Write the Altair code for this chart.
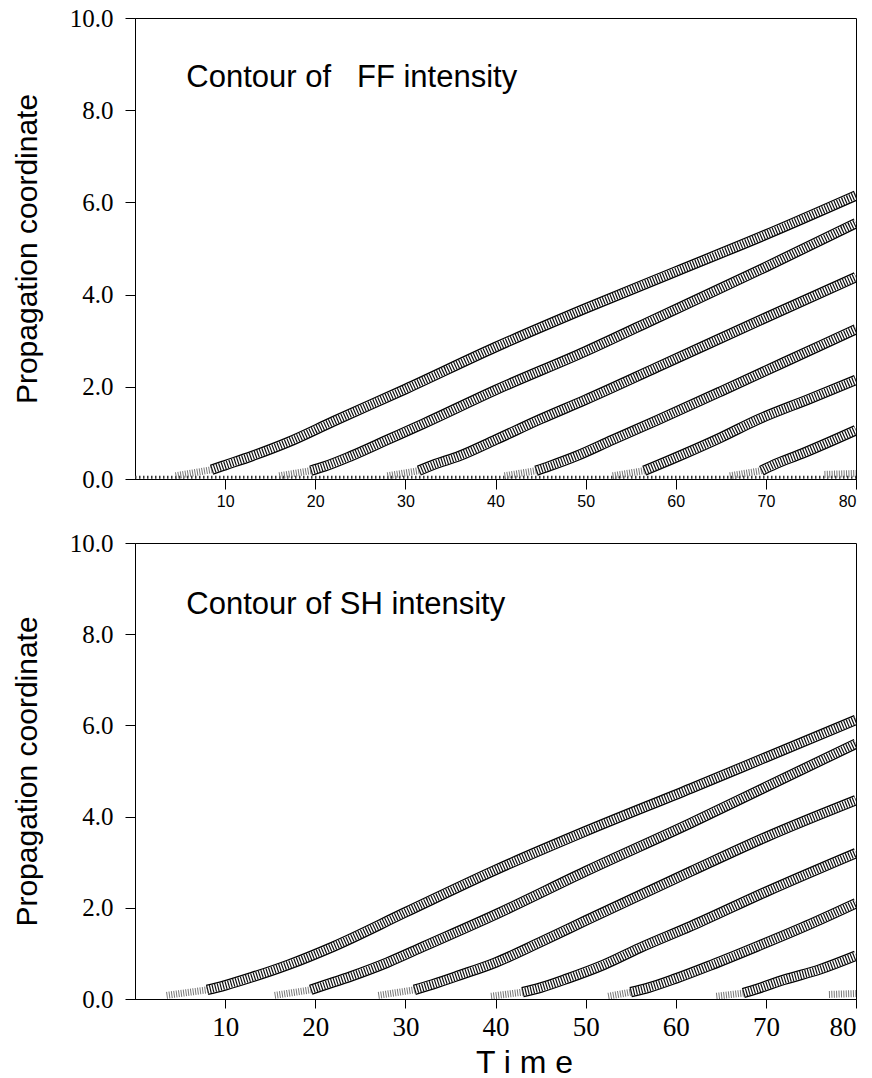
import altair as alt
import pandas as pd

# ---------------- data ----------------
X_TICKS = [10, 20, 30, 40, 50, 60, 70, 80]
Y_TICKS = [0, 2, 4, 6, 8, 10]

# FF intensity contour ridges (top panel)
FF_BAND_X = [
    [8.5, 10, 13, 17, 22, 30, 40, 50, 60, 70, 80],
    [19.5, 21, 24, 28, 32, 40, 50, 58, 70, 80],
    [31.5, 33, 36, 40, 45, 50, 58, 70, 80],
    [44.5, 46, 49, 53, 58, 65, 72, 80],
    [56.5, 58, 61, 65, 69, 75, 80],
    [69.5, 71, 74, 77, 80],
]
FF_BAND_Y = [
    [0.2, 0.3, 0.5, 0.8, 1.25, 1.95, 2.86, 3.7, 4.5, 5.3, 6.15],
    [0.18, 0.27, 0.5, 0.85, 1.2, 1.93, 2.77, 3.5, 4.6, 5.55],
    [0.18, 0.3, 0.5, 0.85, 1.3, 1.72, 2.43, 3.5, 4.38],
    [0.18, 0.28, 0.5, 0.85, 1.28, 1.9, 2.53, 3.25],
    [0.18, 0.3, 0.55, 0.9, 1.28, 1.75, 2.15],
    [0.18, 0.32, 0.55, 0.8, 1.06],
]
FF_STIPPLE_X = [[4.5, 8.5], [16, 19.5], [28, 31.5], [41, 44.5], [53, 56.5], [66, 69.5], [76.5, 80]]
FF_STIPPLE_Y = [[0.07, 0.2], [0.07, 0.18], [0.07, 0.18], [0.07, 0.18], [0.07, 0.18], [0.07, 0.18], [0.1, 0.12]]

# SH intensity contour ridges (bottom panel)
SH_BAND_X = [
    [8, 10, 13, 17, 22, 30, 40, 50, 61.7, 70, 80],
    [19.5, 21, 24, 28, 32, 40.3, 50, 61.7, 70, 80],
    [31, 33, 36, 40, 45, 50, 61.7, 70, 80],
    [43, 45, 48, 52, 56, 61.7, 70, 80],
    [55, 57, 60, 64, 69, 75, 80],
    [67.5, 69, 72, 76, 80],
]
SH_BAND_Y = [
    [0.2, 0.3, 0.48, 0.75, 1.15, 1.9, 2.83, 3.68, 4.62, 5.3, 6.12],
    [0.2, 0.3, 0.5, 0.8, 1.15, 1.88, 2.8, 3.86, 4.65, 5.6],
    [0.2, 0.32, 0.52, 0.8, 1.25, 1.72, 2.8, 3.55, 4.36],
    [0.15, 0.25, 0.45, 0.75, 1.12, 1.6, 2.35, 3.2],
    [0.15, 0.25, 0.45, 0.75, 1.15, 1.65, 2.1],
    [0.13, 0.22, 0.42, 0.65, 0.95],
]
SH_STIPPLE_X = [[3.5, 8], [15.5, 19.5], [27, 31], [39.5, 43], [52.5, 55], [64.5, 67.5], [77, 80]]
SH_STIPPLE_Y = [[0.08, 0.2], [0.08, 0.2], [0.08, 0.2], [0.06, 0.15], [0.06, 0.15], [0.06, 0.13], [0.1, 0.12]]

BASELINE_X = [0, 80]
BASELINE_Y = [0.04, 0.04]

LABEL_X = [5.7]
FF_LABEL_Y = [8.7]
SH_LABEL_Y = [8.64]
FF_LABEL = ["Contour of \u00a0\u00a0FF intensity"]
SH_LABEL = ["Contour of SH intensity"]

Y_TITLE = "Propagation coordinate"
X_TITLE = "T i m e"


def long_table(xs, ys):
    rows = []
    for i, (bx, by) in enumerate(zip(xs, ys)):
        for x, y in zip(bx, by):
            rows.append({"band": i, "x": x, "y": y})
    return pd.DataFrame(rows)


def panel(band_x, band_y, st_x, st_y, label, label_y, height, x_axis, x_title, dotted_base):
    xs = alt.Scale(domain=[0, 80], nice=False, zero=False)
    ys = alt.Scale(domain=[0, 10], nice=False)
    y_axis = alt.Axis(values=Y_TICKS, format=".1f", labelFont="Liberation Serif",
                      labelFontSize=25, tickSize=10, labelPadding=12,
                      titleFont="Liberation Sans", titleFontSize=30,
                      titleFontWeight="normal", titlePadding=27)

    bands = long_table(band_x, band_y)
    stip = long_table(st_x, st_y)

    if x_title:
        xenc = alt.X("x:Q", scale=xs, axis=x_axis, title=x_title)
    else:
        xenc = alt.X("x:Q", scale=xs, axis=x_axis, title=None)
    base_b = alt.Chart(bands).encode(
        x=xenc,
        y=alt.Y("y:Q", scale=ys, axis=y_axis, title=Y_TITLE),
        detail="band:N",
    )

    layers = []
    enc_s = dict(x=alt.X("x:Q", scale=xs), y=alt.Y("y:Q", scale=ys), detail="band:N")
    stipple = alt.Chart(stip).mark_line(color="#777", strokeWidth=7, strokeDash=[1, 1.4],
                                        strokeCap="butt", clip=True).encode(**enc_s)
    if dotted_base:
        bl = pd.DataFrame({"x": BASELINE_X, "y": BASELINE_Y, "band": [0, 0]})
        layers.append(alt.Chart(bl).mark_line(color="#333", strokeWidth=3,
                                             strokeDash=[1.5, 2.5], clip=True).encode(**enc_s))
    layers.append(stipple)
    layers.append(base_b.mark_line(color="black", strokeWidth=10.5, strokeCap="butt",
                                   strokeJoin="round", interpolate="monotone", clip=True))
    layers.append(base_b.mark_line(color="white", strokeWidth=8, strokeCap="butt",
                                   strokeJoin="round", interpolate="monotone", clip=True))
    layers.append(base_b.mark_line(color="#111", strokeWidth=8, strokeCap="butt",
                                   strokeDash=[1.2, 1.5], interpolate="monotone", clip=True))
    txt = pd.DataFrame({"x": LABEL_X, "y": label_y, "t": label})
    layers.append(alt.Chart(txt).mark_text(align="left", baseline="middle",
                                           font="Liberation Sans", fontSize=31,
                                           color="black").encode(
        x=alt.X("x:Q", scale=xs), y=alt.Y("y:Q", scale=ys), text="t:N"))
    return alt.layer(*layers).properties(width=721, height=height)


top_axis = alt.Axis(values=X_TICKS, labelFont="Liberation Sans", labelFontSize=16,
                    tickSize=10, labelPadding=4)
bot_axis = alt.Axis(values=X_TICKS, labelFont="Liberation Serif", labelFontSize=27,
                    tickSize=9, labelPadding=6,
                    titleFont="Liberation Sans", titleFontSize=32,
                    titleFontWeight="normal", titleX=389, titleY=48,
                    titleBaseline="top", titleAlign="center")

top = panel(FF_BAND_X, FF_BAND_Y, FF_STIPPLE_X, FF_STIPPLE_Y, FF_LABEL, FF_LABEL_Y,
            461, top_axis, "", True)
bottom = panel(SH_BAND_X, SH_BAND_Y, SH_STIPPLE_X, SH_STIPPLE_Y, SH_LABEL, SH_LABEL_Y,
               456, bot_axis, X_TITLE, False)

chart = alt.vconcat(top, bottom, spacing=20).properties(
    padding={"left": 11, "top": 5, "right": 3, "bottom": 5}
).configure_view(stroke="black", strokeWidth=1).configure_axis(
    grid=False, domainColor="black", tickColor="black", labelColor="black",
    titleColor="black"
)

chart.save("out.html", embed_options={"renderer": "svg", "actions": False})
